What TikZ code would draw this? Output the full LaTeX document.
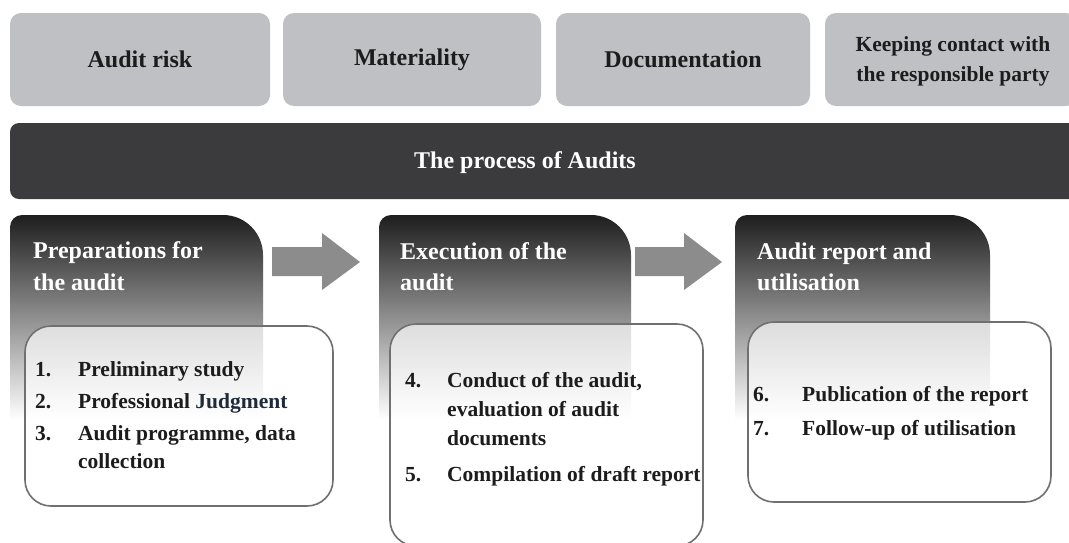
\documentclass[tikz,border=0pt]{standalone}
\usepackage{fontspec}
\setmainfont{Liberation Serif}
\definecolor{topgray}{HTML}{BEC0C3}
\definecolor{bardark}{HTML}{3B3B3D}
\definecolor{arrowgray}{HTML}{8C8C8C}
\definecolor{textdark}{HTML}{1C1C1C}
\definecolor{boxborder}{HTML}{707070}
\definecolor{judgcol}{HTML}{1F2A3A}
\definecolor{tabdark}{HTML}{1E1E1E}
\tikzset{
  topbox/.style={fill=topgray, rounded corners=11pt, inner sep=0pt, text=textdark,
    font=\bfseries\fontsize{24}{28}\selectfont, align=center},
  bar/.style={fill=bardark, rounded corners=9pt, inner sep=0pt},
  barlabel/.style={text=white, font=\bfseries\fontsize{24}{28}\selectfont, inner sep=0pt},
  tabshade/.style={top color=tabdark, bottom color=white},
  faintshade/.style={top color=tabdark!32!white, bottom color=white},
  tabtitle/.style={text=white, anchor=base west, inner sep=0pt, font=\bfseries\fontsize{24}{28}\selectfont},
  listborder/.style={draw=boxborder, line width=1.6pt, rounded corners=26pt},
  item/.style={text=textdark, anchor=base west, inner sep=0pt, font=\bfseries\fontsize{21.5}{28}\selectfont},
  blockarrow/.style={fill=arrowgray}
}
\begin{document}
\begin{tikzpicture}[x=1pt,y=-1pt]
\useasboundingbox (0,0) rectangle (1069,542);
\fill[white] (0,0) rectangle (1069,542);
% top boxes
\node[topbox, minimum width=260pt, minimum height=93pt] (risk) at (140,59.5) {Audit risk};
\node[topbox, minimum width=258pt, minimum height=93pt] (mat) at (412,59.5) {\raisebox{-2pt}{Materiality}};
\node[topbox, minimum width=254pt, minimum height=93pt] (doc) at (683,59.5) {Documentation};
\node[topbox, minimum width=252pt, minimum height=93pt] (keep) at (951,59.5) {};
\node[text=textdark, inner sep=0pt, align=center, font=\bfseries\fontsize{21.5}{30}\selectfont] (keeptxt) at (953,61) {Keeping contact with\\the responsible party};
% dark bar
\node[bar, minimum width=1075pt, minimum height=76pt] (proc) at (547.5,161) {};
\node[barlabel] (proctxt) at (525,163) {The process of Audits};
% tabs
\def\tabA{(10,420) -- (10,227) .. controls (10,220.4) and (15.4,215) .. (22,215) -- (223,215) .. controls (245.1,215) and (263,232.9) .. (263,255) -- (263,420) -- cycle}
\def\tabB{(379,420) -- (379,227) .. controls (379,220.4) and (384.4,215) .. (391,215) -- (591,215) .. controls (613.1,215) and (631,232.9) .. (631,255) -- (631,420) -- cycle}
\def\tabC{(735,420) -- (735,227) .. controls (735,220.4) and (740.4,215) .. (747,215) -- (950,215) .. controls (972.1,215) and (990,232.9) .. (990,255) -- (990,420) -- cycle}
\shade[tabshade] \tabA;
\shade[tabshade] \tabB;
\shade[tabshade] \tabC;
% block arrows
\fill[blockarrow] (272,247) -- (322,247) -- (322,233) -- (360,262) -- (322,290) -- (322,276) -- (272,276) -- cycle;
\fill[blockarrow] (635,247) -- (684,247) -- (684,233) -- (722,262) -- (684,290) -- (684,276) -- (635,276) -- cycle;
% list boxes: white with the tab faintly showing through
\begin{scope}
\clip[rounded corners=26pt] (25,326) rectangle (333,506);
\fill[white] (25,326) rectangle (333,506);
\shade[faintshade] \tabA;
\end{scope}
\begin{scope}
\clip[rounded corners=26pt] (390,324) rectangle (703,546);
\fill[white] (390,324) rectangle (703,546);
\shade[faintshade] \tabB;
\end{scope}
\begin{scope}
\clip[rounded corners=26pt] (748,322) rectangle (1051,502);
\fill[white] (748,322) rectangle (1051,502);
\shade[faintshade] \tabC;
\end{scope}
\draw[listborder] (25,326) rectangle (333,506);
\draw[listborder] (390,324) rectangle (703,546);
\draw[listborder] (748,322) rectangle (1051,502);
% tab titles
\node[tabtitle] (t1a) at (33,258) {Preparations for};
\node[tabtitle] (t1b) at (33,290) {the audit};
\node[tabtitle] (t2a) at (400,259) {Execution of the};
\node[tabtitle] (t2b) at (400,290) {audit};
\node[tabtitle] (t3a) at (757,259) {Audit report and};
\node[tabtitle] (t3b) at (757,290) {utilisation};
% list items
\node[item] (i1) at (35,376) {\makebox[43pt][l]{1.}Preliminary study};
\node[item] (i2) at (35,408) {\makebox[43pt][l]{2.}Professional \textcolor{judgcol}{Judgment}};
\node[item] (i3) at (35,440) {\makebox[43pt][l]{3.}Audit programme, data};
\node[item] (i3b) at (78,468) {collection};
\node[item] (i4) at (405,387) {\makebox[42pt][l]{4.}Conduct of the audit,};
\node[item] (i4b) at (447,416) {evaluation of audit};
\node[item] (i4c) at (447,445) {documents};
\node[item] (i5) at (405,481) {\makebox[42pt][l]{5.}Compilation of draft report};
\node[item] (i6) at (753,401) {\makebox[49pt][l]{6.}Publication of the report};
\node[item] (i7) at (753,435) {\makebox[49pt][l]{7.}Follow-up of utilisation};
\end{tikzpicture}
\end{document}
